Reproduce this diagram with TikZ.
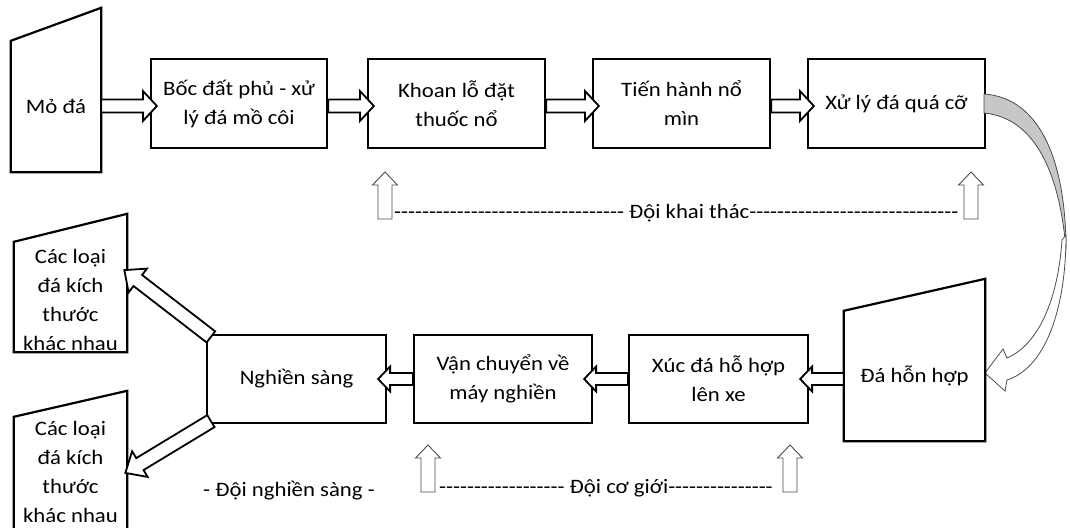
\documentclass[tikz,border=0pt]{standalone}
\usepackage{fontspec}
\setmainfont{Carlito}[FakeStretch=1.11, Ligatures=TeXOff]
\usetikzlibrary{calc}

% hollow block arrow from #2 to #3: half shaft #4, half head #5, head length #6
\newcommand{\blkarrow}[6][blockarr]{%
  \path let \p1=(#2), \p2=(#3) in
    \pgfextra{\xdef\bkax{\x1}\xdef\bkay{\y1}\xdef\bkbx{\x2}\xdef\bkby{\y2}};
  \pgfmathsetmacro{\bkang}{atan2(\bkby-\bkay,\bkbx-\bkax)}%
  \pgfmathsetmacro{\bklen}{veclen(\bkbx-\bkax,\bkby-\bkay)}%
  \draw[#1, shift={(\bkax,\bkay)}, rotate=\bkang]
    (0pt,-#4pt) -- ({\bklen pt-#6pt},-#4pt) -- ({\bklen pt-#6pt},-#5pt)
    -- (\bklen pt,0pt) -- ({\bklen pt-#6pt},#5pt) -- ({\bklen pt-#6pt},#4pt)
    -- (0pt,#4pt) -- cycle;
}

\tikzset{
  lbl/.style={font=\fontsize{20.5}{29}\selectfont, align=center, inner sep=0pt},
  procbox/.style={lbl, draw, line width=2.2pt, minimum width=#1, minimum height=89pt},
  shapebox/.style={lbl, minimum width=#1},
  outline/.style={draw, line width=2.2pt, line join=miter, fill=white},
  blockarr/.style={draw, line width=1.8pt, line join=miter, fill=white},
  teamarr/.style={draw=black!70, line width=0.9pt, line join=miter, fill=white},
  backfold/.style={draw=black!70, line width=0.8pt, fill=black!22},
  frontfold/.style={draw=black!70, line width=0.8pt, fill=white},
}

\begin{document}
\begin{tikzpicture}[x=1pt, y=-1pt]
\useasboundingbox (0,0) rectangle (1070,527);
\fill[white] (0,0) rectangle (1070,527);
\clip (0,0) rectangle (1070,527);

% ---- upper row ----
\node[shapebox=90pt, minimum height=131pt] (mo) at (56,106.5) {};
\draw[outline] (mo.south west) -- (mo.south east) -- ($(mo.north east)+(0,-33)$)
  -- (mo.north west) -- cycle;
\node at (mo) [lbl] {Mỏ đá};

\node[procbox=176pt] (b1) at (239,103.5) {Bốc đất phủ - xử\\lý đá mồ côi};
\node[procbox=177pt] (b2) at (456.5,103.5) {Khoan lỗ đặt\\thuốc nổ};
\node[procbox=177pt] (b3) at (681.5,103.5) {Tiến hành nổ\\mìn};
\node[procbox=177pt] (b4) at (896.5,103.5) {Xử lý đá quá cỡ};

\blkarrow{$(mo.east |- 0,106)$}{$(b1.west |- 0,106)+(7,0)$}{6.5}{15}{14}
\blkarrow{$(b1.east |- 0,106)$}{$(b2.west |- 0,106)+(7,0)$}{6.5}{15}{14}
\blkarrow{$(b2.east |- 0,106)$}{$(b3.west |- 0,106)+(7,0)$}{6.5}{15}{14}
\blkarrow{$(b3.east |- 0,106)$}{$(b4.west |- 0,106)+(7,0)$}{6.5}{15}{14}

% ---- mining team ----
\coordinate (kt1) at (385,219);
\coordinate (kt2) at (971,219);
\blkarrow[teamarr]{kt1}{$(kt1)+(0,-47)$}{7}{12.5}{13}
\blkarrow[teamarr]{kt2}{$(kt2)+(0,-47)$}{7}{12.5}{13}
\node[lbl, anchor=base west] (kt) at (394,218)
  {---------------------------------\ Đội khai thác------------------------------};

% ---- folded arrow down the right side ----
\path[backfold] (984,94) .. controls (1042,98) and (1066,165) .. (1066,250)
  .. controls (1060,175) and (1036,118) .. (984,113) -- cycle;
\path[frontfold] (1066,235) .. controls (1066,310) and (1045,368) .. (1007,380)
  -- (1005,391) -- (985,373) -- (1003,349) -- (1007,358)
  .. controls (1038,345) and (1058,300) .. (1062,240) -- cycle;

% ---- lower row ----
\node[shapebox=141pt, minimum height=130pt] (dh) at (914.5,376) {};
\draw[outline] (dh.south west) -- (dh.south east) -- ($(dh.north east)+(0,-32)$)
  -- (dh.north west) -- cycle;
\node at (dh) [lbl] {Đá hỗn hợp};

\node[procbox=179pt, minimum height=88pt] (xd) at (718.5,379) {Xúc đá hỗ hợp\\lên xe};
\node[procbox=178pt, minimum height=88pt] (vc) at (503,379) {Vận chuyển về\\máy nghiền};
\node[procbox=179pt, minimum height=88pt] (ns) at (296.5,379) {Nghiền sàng};

\blkarrow{$(dh.west |- 0,379)$}{$(xd.east |- 0,379)+(-9,0)$}{6}{12.5}{12}
\blkarrow{$(xd.west |- 0,379)$}{$(vc.east |- 0,379)+(-9,0)$}{6}{12.5}{12}
\blkarrow{$(vc.west |- 0,379)$}{$(ns.east |- 0,379)+(-9,0)$}{6}{12.5}{12}

% ---- product piles ----
\node[shapebox=113pt, minimum height=110pt] (c1) at (70.5,297) {};
\draw[outline] (c1.south west) -- (c1.south east) -- ($(c1.north east)+(0,-28)$)
  -- (c1.north west) -- cycle;
\node[lbl] at ($(c1)+(0,3)$) {Các loại\\đá kích\\thước\\khác nhau};

\node[shapebox=113pt, minimum height=115pt] (c2) at (70.5,474.5) {};
\draw[outline] (c2.south west) -- (c2.south east) -- ($(c2.north east)+(0,-26)$)
  -- (c2.north west) -- cycle;
\node[lbl] at ($(c2)+(0,-3)$) {Các loại\\đá kích\\thước\\khác nhau};

\blkarrow{$(ns.north west)+(5,3)$}{$(c1.east)+(-3,-27)$}{7}{15}{17}
\blkarrow{$(ns.south west)+(5,-3)$}{$(c2.east)+(-2,-1.5)$}{7}{15}{17}

% ---- crushing and machinery teams ----
\node[lbl, anchor=base] (dns) at (289,496) {- Đội nghiền sàng -};
\coordinate (cg1) at (428,492);
\coordinate (cg2) at (790,492);
\blkarrow[teamarr]{cg1}{$(cg1)+(0,-47)$}{7}{12.5}{13}
\blkarrow[teamarr]{cg2}{$(cg2)+(0,-47)$}{7}{12.5}{13}
\node[lbl, anchor=base west] (cg) at (439,493)
  {------------------\ Đội cơ giới---------------};
\end{tikzpicture}
\end{document}
